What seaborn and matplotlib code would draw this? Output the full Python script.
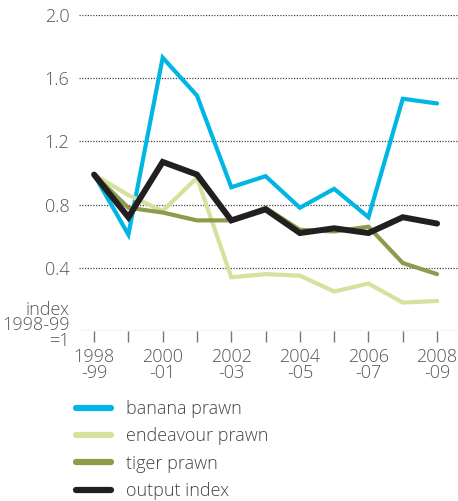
import matplotlib
matplotlib.use("Agg")
import matplotlib.pyplot as plt
import seaborn as sns
import pandas as pd

years = [1998, 1999, 2000, 2001, 2002, 2003, 2004, 2005, 2006, 2007, 2008]
banana = [0.99, 0.61, 1.73, 1.49, 0.91, 0.98, 0.78, 0.90, 0.72, 1.47, 1.44]
endeavour = [0.99, 0.86, 0.76, 0.97, 0.34, 0.36, 0.35, 0.25, 0.30, 0.18, 0.19]
tiger = [0.99, 0.78, 0.75, 0.70, 0.70, 0.78, 0.64, 0.63, 0.66, 0.43, 0.36]
output_index = [0.99, 0.72, 1.07, 0.99, 0.70, 0.77, 0.62, 0.65, 0.62, 0.72, 0.68]

series_names = ["banana prawn", "endeavour prawn", "tiger prawn", "output index"]
series_values = [banana, endeavour, tiger, output_index]
colors = ["#00B6E4", "#D3E39E", "#8E9B4B", "#231F20"]
widths = [3.0, 3.0, 3.0, 4.3]

x_tick_years = [1998, 2000, 2002, 2004, 2006, 2008]
x_tick_labels = ["1998\n-99", "2000\n-01", "2002\n-03", "2004\n-05", "2006\n-07", "2008\n-09"]
y_ticks = [0.4, 0.8, 1.2, 1.6, 2.0]
y_tick_labels = ["0.4", "0.8", "1.2", "1.6", "2.0"]
base_label = "index\n1998-99\n=1"

rows = []
for name, vals in zip(series_names, series_values):
    for yr, v in zip(years, vals):
        rows.append({"year": yr, "value": v, "series": name})
df = pd.DataFrame(rows)

sns.set_style("white")
plt.rcParams["font.family"] = ["Open Sans", "DejaVu Sans"]
plt.rcParams["font.weight"] = "light"

fig = plt.figure(figsize=(4.58, 5.01), dpi=100)
ax = fig.add_axes([79 / 458, 1 - 331 / 501, (458 - 79) / 458, (331 - 15) / 501])

text_col = "#555555"
grid_col = "#444444"
fs = 13

for yv in [0.0] + y_ticks:
    ax.axhline(yv, color=grid_col, linewidth=0.9, linestyle=(0, (1, 1.2)), zorder=1)

for name, col, lw in zip(series_names, colors, widths):
    sns.lineplot(data=df[df["series"] == name], x="year", y="value", ax=ax,
                 color=col, linewidth=lw, label=name, zorder=3,
                 solid_joinstyle="miter", solid_capstyle="round")

ax.set_xlim(1997.56, 2008.61)
ax.set_ylim(0, 2.0)
for s in ax.spines.values():
    s.set_visible(False)

ax.set_xticks(years, minor=True)
ax.set_xticks(x_tick_years)
ax.set_xticklabels(x_tick_labels, fontsize=fs, color=text_col, linespacing=0.85,
                   fontweight="light")
ax.tick_params(axis="x", which="both", direction="out", length=8, width=1,
               color="#777777", bottom=True, pad=4)

ax.set_yticks(y_ticks)
ax.set_yticklabels(y_tick_labels, fontsize=fs, color=text_col, fontweight="light")
ax.tick_params(axis="y", length=0, pad=7)

ax.text(-0.024, 0.035, base_label, transform=ax.get_yaxis_transform(),
        ha="right", va="center", fontsize=fs, color=text_col, linespacing=0.8,
        fontweight="light")

ax.set_xlabel("")
ax.set_ylabel("")

handles, labels = ax.get_legend_handles_labels()
ax.legend_.remove()
leg = fig.legend(handles, labels, loc="upper left",
                 bbox_to_anchor=(76 / 458, 1 - 400 / 501),
                 bbox_transform=fig.transFigure, frameon=False,
                 prop={"size": fs, "weight": "light"}, handlelength=1.95,
                 handletextpad=0.8, labelspacing=0.52, borderpad=0, borderaxespad=0)
for t in leg.get_texts():
    t.set_color("#444444")
for h in leg.legend_handles:
    h.set_linewidth(4.5)
    h.set_solid_capstyle("round")

fig.savefig("out.png", dpi=100)
